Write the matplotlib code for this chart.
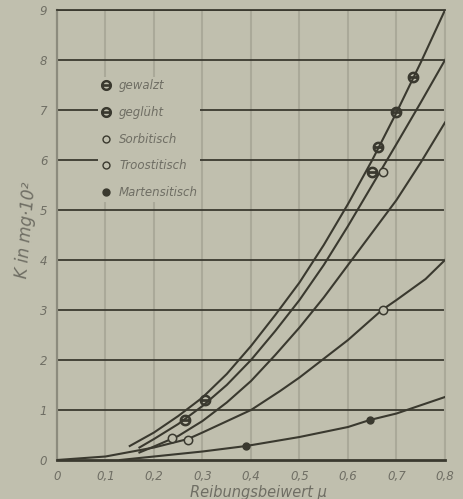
import numpy as np
import matplotlib
matplotlib.use('Agg')
import matplotlib.pyplot as plt
from matplotlib.lines import Line2D

# curves (mu, K)
gewalzt_mu = [0.15, 0.2, 0.25, 0.3, 0.35, 0.4, 0.45, 0.5, 0.55, 0.6, 0.65, 0.7, 0.75, 0.8]
gewalzt_K = [0.28, 0.55, 0.88, 1.25, 1.72, 2.28, 2.9, 3.55, 4.3, 5.12, 6.0, 6.95, 7.95, 9.0]

gegluht_mu = [0.17, 0.2, 0.25, 0.3, 0.35, 0.4, 0.45, 0.5, 0.55, 0.6, 0.65, 0.7, 0.75, 0.8]
gegluht_K = [0.25, 0.42, 0.72, 1.08, 1.5, 2.0, 2.58, 3.2, 3.9, 4.68, 5.5, 6.32, 7.15, 8.0]

sorbit_mu = [0.17, 0.2, 0.25, 0.3, 0.35, 0.4, 0.45, 0.5, 0.55, 0.6, 0.65, 0.7, 0.75, 0.8]
sorbit_K = [0.15, 0.27, 0.48, 0.78, 1.15, 1.58, 2.1, 2.65, 3.25, 3.9, 4.55, 5.2, 5.95, 6.75]

troost_mu = [0.0, 0.1, 0.2, 0.27, 0.3, 0.4, 0.46, 0.5, 0.6, 0.67, 0.7, 0.76, 0.8]
troost_K = [0.0, 0.07, 0.25, 0.42, 0.55, 1.0, 1.38, 1.65, 2.4, 3.0, 3.2, 3.62, 4.0]

marten_mu = [0.13, 0.2, 0.3, 0.39, 0.5, 0.6, 0.645, 0.7, 0.8]
marten_K = [0.0, 0.07, 0.17, 0.28, 0.46, 0.66, 0.8, 0.93, 1.26]

# measured points
gewalzt_pts_mu = [0.305, 0.70, 0.734]
gewalzt_pts_K = [1.2, 6.96, 7.66]
gegluht_pts_mu = [0.264, 0.65, 0.662]
gegluht_pts_K = [0.8, 5.76, 6.26]
sorbit_pts_mu = [0.237, 0.672]
sorbit_pts_K = [0.44, 5.76]
troost_pts_mu = [0.27, 0.672]
troost_pts_K = [0.4, 3.0]
marten_pts_mu = [0.39, 0.645]
marten_pts_K = [0.28, 0.8]

x_ticks = [0, 0.1, 0.2, 0.3, 0.4, 0.5, 0.6, 0.7, 0.8]
x_labels = ['0', '0,1', '0,2', '0,3', '0,4', '0,5', '0,6', '0,7', '0,8']
y_ticks = [0, 1, 2, 3, 4, 5, 6, 7, 8, 9]

bg = '#c0bfae'
ink = '#3a392f'
pale = '#aaa999'
txt = '#6f6e64'

fig = plt.figure(figsize=(4.64, 4.99), dpi=100, facecolor=bg)
ax = fig.add_axes([57/464, 1-460/499, 388/464, 450/499], facecolor=bg)

for x in x_ticks[1:]:
    ax.axvline(x, color=pale, lw=1.5, zorder=1)
for y in y_ticks[1:]:
    ax.axhline(y, color=ink, lw=1.3, zorder=1)

curves = [(gewalzt_mu, gewalzt_K), (gegluht_mu, gegluht_K), (sorbit_mu, sorbit_K),
          (troost_mu, troost_K), (marten_mu, marten_K)]
for m, k in curves:
    ax.plot(m, k, color=ink, lw=1.5, zorder=3)

ms_kw = dict(color=ink, ls='none', zorder=4)
ax.plot(gewalzt_pts_mu, gewalzt_pts_K, marker=r'$\ominus$', ms=7.5, **ms_kw)
ax.plot(gegluht_pts_mu, gegluht_pts_K, marker=r'$\ominus$', ms=7.5, **ms_kw)
ax.plot(sorbit_pts_mu, sorbit_pts_K, marker='o', ms=6, mfc=bg, mew=1.1, **ms_kw)
ax.plot(troost_pts_mu, troost_pts_K, marker='o', ms=6, mfc=bg, mew=1.1, **ms_kw)
ax.plot(marten_pts_mu, marten_pts_K, marker='o', ms=5, **ms_kw)

handles = [
    Line2D([], [], marker=r'$\ominus$', ms=7, color=ink, ls='none'),
    Line2D([], [], marker=r'$\ominus$', ms=7, color=ink, ls='none'),
    Line2D([], [], marker='o', ms=5, mfc=bg, color=ink, ls='none'),
    Line2D([], [], marker='o', ms=5, mfc=bg, color=ink, ls='none'),
    Line2D([], [], marker='o', ms=5, color=ink, ls='none'),
]
labels = ['gewalzt', 'geglüht', 'Sorbitisch', 'Troostitisch', 'Martensitisch']
leg = ax.legend(handles, labels, loc='upper left', bbox_to_anchor=(0.09, 0.865),
                frameon=True, facecolor=bg, edgecolor='none', framealpha=1,
                handlelength=1.0, handletextpad=0.6, labelspacing=1.17,
                borderpad=0.2, prop={'style': 'italic', 'size': 8.5})
for t in leg.get_texts():
    t.set_color(txt)
leg.set_zorder(5)

ax.set_xlim(0, 0.8)
ax.set_ylim(0, 9)
ax.set_xticks(x_ticks)
ax.set_xticklabels(x_labels)
ax.set_yticks(y_ticks)
ax.tick_params(length=0, pad=7, labelsize=8.5, labelcolor=txt)
for lab in ax.get_xticklabels() + ax.get_yticklabels():
    lab.set_style('italic')

ax.spines['bottom'].set_color(ink)
ax.spines['bottom'].set_linewidth(2)
ax.spines['left'].set_color('#8c8b7d')
ax.spines['left'].set_linewidth(1.6)
ax.spines['top'].set_color(ink)
ax.spines['top'].set_linewidth(1.3)
ax.spines['right'].set_color(pale)
ax.spines['right'].set_linewidth(1.5)

ax.set_xlabel('Reibungsbeiwert μ', color=txt, style='italic', fontsize=10.5, labelpad=0)
ax.xaxis.set_label_coords(0.52, -0.055)
ax.text(-0.063, 4.6, 'K in mg·10²', rotation=85, color=txt, style='italic',
        fontsize=12, ha='center', va='center', transform=ax.transData, clip_on=False)

fig.savefig('out.png', dpi=100, facecolor=bg)
